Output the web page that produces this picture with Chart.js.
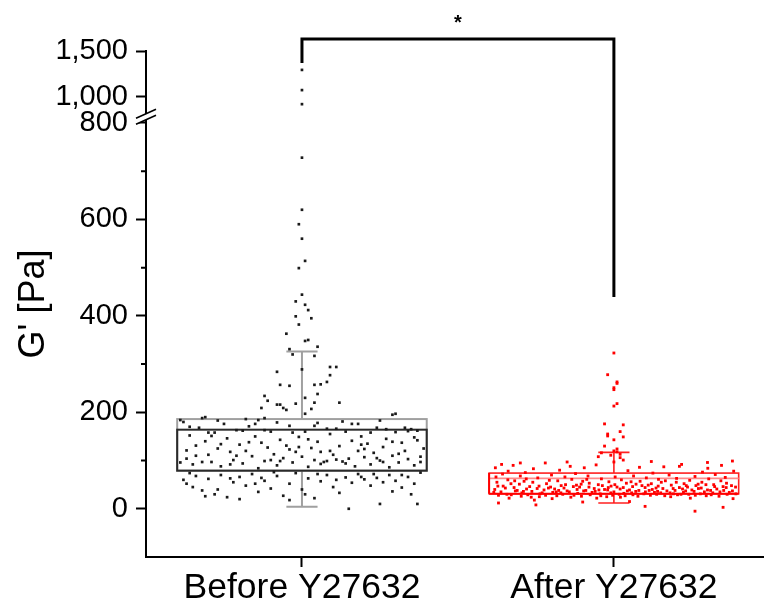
<!DOCTYPE html>
<html>
<head>
<meta charset="utf-8">
<script src="https://cdn.jsdelivr.net/npm/chart.js@4.4.1/dist/chart.umd.min.js"></script>
<style>
  html, body { margin: 0; padding: 0; background: #fff; }
  #chart { display: block; }
</style>
</head>
<body>
<canvas id="chart" width="767" height="606"></canvas>
<script>
const categories = ['Before Y27632', 'After Y27632'];
const yTickVals = [0, 200, 400, 600, 800, 1000, 1500];
const yTickLabels = ['0', '200', '400', '600', '800', '1,000', '1,500'];
const yMinorVals = [100, 300, 500, 700];

// box statistics
const q1 = [79, 31];
const med = [164, 63];
const q3 = [186, 74];
const whiskLo = [4, 12];
const whiskHi = [326, 117];

// significance bracket: left end, top, right end (Pa)
const bracketY = [1369, 1631, 439];

// points: [jittered x, G' value]
const beforePoints = [
  [1.00,1293],[1.00,1072],[1.00,918],[1.00,728],[1.00,620],[0.99,590],[1.00,560],[1.01,514],[0.99,499],
  [1.00,444],[0.98,430],[1.01,423],[1.02,412],[0.98,399],[1.03,395],[0.99,382],[0.95,363],[1.01,348],
  [1.02,350],[0.96,331],[1.05,336],[0.97,320],[1.04,317],[1.00,289],[0.92,284],[1.11,294],[1.09,294],
  [1.09,277],[0.96,255],[0.93,257],[1.04,257],[1.06,258],[1.08,263],[1.05,238],[1.01,230],[0.88,234],
  [0.89,224],[0.92,216],[0.98,218],[0.87,209],[0.93,216],[0.94,209],[0.95,205],[1.03,207],[1.01,197],
  [1.12,220],[1.04,220],[1.29,195],[1.30,197],[0.68,188],[0.69,190],[0.82,186],[0.61,184],[0.88,188],
  [0.62,180],[0.64,152],[0.66,131],[0.63,104],[0.65,92],[0.67,168],[0.69,140],[0.70,112],[0.71,97],
  [0.72,158],[0.73,125],[0.74,88],[0.75,176],[0.76,146],[0.77,118],[0.78,101],[0.79,163],[0.80,133],
  [0.81,94],[0.82,120],[0.83,171],[0.84,109],[0.85,150],[0.86,84],[0.87,137],[0.88,99],[0.89,127],
  [0.90,160],[0.91,113],[0.92,90],[0.93,143],[0.94,105],[0.95,131],[0.96,172],[0.97,96],[0.98,118],
  [0.99,149],[1.00,108],[1.01,160],[1.02,87],[1.03,126],[1.04,101],[1.05,139],[1.06,93],[1.07,97],
  [1.08,99],[1.09,155],[1.10,112],[1.11,166],[1.12,130],[1.13,98],[1.14,160],[1.15,104],[1.16,141],
  [1.17,88],[1.18,120],[1.19,150],[1.20,107],[1.21,135],[1.22,92],[1.23,116],[1.24,168],[1.25,100],
  [1.26,128],[1.27,145],[1.28,86],[1.29,110],[1.30,159],[1.31,96],[1.32,137],[1.33,120],[1.34,103],
  [1.35,165],[1.36,90],[1.37,142],[1.38,108],[1.39,125],[0.63,121],[0.68,97],[0.74,134],[0.79,110],
  [0.85,176],[0.90,101],[0.96,123],[1.02,144],[1.06,118],[1.11,102],[1.16,176],[1.20,124],[1.26,97],
  [1.31,114],[1.36,148],[0.66,110],[0.71,151],[0.77,92],[0.83,138],[0.88,163],[0.93,99],[0.99,128],
  [1.04,172],[1.09,120],[1.14,94],[1.19,133],[1.24,105],[1.29,139],[1.34,161],[1.38,97],[0.61,96],
  [0.97,158],[1.08,166],[1.22,158],[1.27,165],[1.33,168],[1.37,162],[0.70,158],[0.81,162],[0.64,170],
  [1.13,181],[1.25,183],[0.73,183],[0.92,179],[1.05,178],[0.86,184],[1.18,176],
  [0.62,60],[0.63,52],[0.65,45],[0.68,38],[0.70,62],[0.72,30],[0.74,70],[0.76,24],[0.78,55],[0.80,66],
  [0.82,48],[0.84,72],[0.86,35],[0.88,58],[0.90,42],[0.92,68],[0.94,27],[0.96,52],[0.98,74],[1.00,40],
  [1.02,63],[1.04,22],[1.06,57],[1.08,70],[1.10,45],[1.12,33],[1.14,65],[1.16,54],[1.18,72],[1.20,61],
  [1.22,48],[1.24,64],[1.26,55],[1.28,70],[1.30,58],[1.32,44],[1.34,66],[1.36,52],[1.38,75],[0.64,74],
  [0.73,40],[0.87,64],[1.01,30],[1.11,60],[1.29,36],[1.35,30],[0.96,18],[0.80,20],[1.25,10],[1.37,10],
  [1.15,0],[0.69,26],[1.19,66],[0.91,76],[1.05,72],[0.66,68],[0.77,63],[1.32,70],[1.23,72],[0.85,52]
];

const afterPoints = [
  [2.00,323],[1.98,278],[2.01,263],[2.01,260],[2.00,247],[2.00,251],[2.00,213],[2.01,218],[1.97,176],
  [2.03,174],[1.98,155],[2.02,160],[2.03,149],[1.98,151],[2.00,143],[1.97,130],[1.96,116],[2.00,120],
  [2.01,118],[2.02,106],[2.01,124],[1.99,111],[2.02,113],[1.95,108],[2.03,101],[2.00,97],
  [1.62,85],[1.625,55],[1.618,40],[1.63,28],[1.622,66],[1.64,92],[1.645,47],[1.638,35],[1.643,72],
  [1.66,60],[1.657,30],[1.664,22],[1.661,78],[1.68,44],[1.684,37],[1.677,90],[1.682,58],
  [1.70,68],[1.703,26],[1.697,51],[1.705,33],[1.72,41],[1.716,75],[1.724,29],[1.719,62],
  [1.74,55],[1.745,18],[1.737,36],[1.742,83],[1.76,47],[1.763,31],[1.756,64],[1.761,25],
  [1.78,95],[1.776,39],[1.784,52],[1.781,28],[1.80,70],[1.804,34],[1.797,45],[1.802,21],
  [1.82,58],[1.817,27],[1.823,38],[1.826,80],[1.84,43],[1.843,66],[1.836,30],[1.845,50],
  [1.86,88],[1.857,35],[1.862,24],[1.865,61],[1.88,49],[1.884,32],[1.877,73],[1.882,40],
  [1.90,57],[1.896,26],[1.903,37],[1.905,85],[1.92,45],[1.917,68],[1.924,29],[1.921,53],
  [1.94,36],[1.943,91],[1.937,42],[1.945,22],[1.96,62],[1.956,31],[1.963,48],[1.958,27],
  [1.98,39],[1.984,56],[1.977,25],[1.982,44],[2.00,35],[2.004,66],[1.996,28],[2.003,50],
  [2.02,41],[2.017,30],[2.024,60],[2.021,24],[2.04,53],[2.043,37],[2.036,27],[2.045,79],
  [2.06,46],[2.057,33],[2.063,68],[2.061,29],[2.08,38],[2.084,57],[2.077,26],[2.082,86],
  [2.10,44],[2.096,31],[2.104,64],[2.101,35],[2.12,52],[2.117,28],[2.123,40],[2.125,74],
  [2.14,36],[2.143,61],[2.137,30],[2.142,47],[2.16,87],[2.157,42],[2.163,27],[2.165,58],
  [2.18,33],[2.184,49],[2.177,70],[2.182,25],[2.20,55],[2.196,38],[2.204,29],[2.201,63],
  [2.22,41],[2.217,92],[2.223,34],[2.225,52],[2.24,30],[2.243,59],[2.236,45],[2.245,22],
  [2.26,67],[2.257,36],[2.263,48],[2.261,28],[2.28,43],[2.284,76],[2.277,31],[2.282,55],
  [2.30,39],[2.296,27],[2.304,62],[2.301,84],[2.32,50],[2.317,33],[2.323,46],[2.325,71],
  [2.34,35],[2.343,58],[2.337,26],[2.345,90],[2.36,44],[2.357,65],[2.363,30],[2.361,53],
  [2.38,37],[2.384,78],[2.377,48],[2.382,21],
  [1.63,12],[1.75,8],[2.10,5],[2.26,-5],[2.35,3],[1.90,14],[2.05,15],[1.85,97],[2.12,98],[2.30,96],
  [2.38,99],[1.70,95],[2.21,88],
  [1.615,34],[1.652,43],[1.69,38],[1.73,46],[1.77,33],[1.81,41],[1.85,37],[1.89,45],[1.93,34],[1.97,40],
  [2.01,45],[2.05,39],[2.09,48],[2.13,34],[2.17,37],[2.21,44],[2.25,39],[2.29,35],[2.33,41],[2.37,34],
  [2.39,45],[1.67,52],[1.71,36],[1.79,43],[1.83,33],[1.87,46],[1.91,38],[1.95,50],[1.99,33],[2.03,44],
  [2.07,36],[2.11,49],[2.15,33],[2.19,42],[2.23,37],[2.27,51],[2.31,38],[2.35,46],
  [1.628,47],[1.671,29],[1.712,57],[1.754,42],[1.793,59],[1.831,48],[1.872,28],[1.913,61],[1.952,39],
  [1.991,47],[2.032,32],[2.071,51],[2.113,38],[2.152,55],[2.191,31],[2.232,48],[2.271,42],[2.312,29],
  [2.352,38],[2.391,31],[1.735,24],[1.815,35],[1.895,51],[2.055,56],[2.135,43],[2.215,30],[2.295,50]
];

// broken axis: 0-800 linear, then 1000-1500 compressed
function brk(v) {
  return v <= 800 ? v : 854.5 + (v - 1000) * 0.1894;
}

const FONT = 'Liberation Sans, Arial, sans-serif';

const boxPlugin = {
  id: 'boxes',
  beforeDatasetsDraw(chart) {
    const ctx = chart.ctx, x = chart.scales.x, y = chart.scales.y;
    const py = v => y.getPixelForValue(brk(v));
    ctx.save();
    categories.forEach((c, i) => {
      const cx = i + 1;
      const xl = x.getPixelForValue(cx - 0.4), xr = x.getPixelForValue(cx + 0.4);
      const xm = x.getPixelForValue(cx);
      const cl = x.getPixelForValue(cx - 0.05), cr = x.getPixelForValue(cx + 0.05);
      const outer = i === 0 ? '#a0a0a0' : '#ff2020';
      const inner = i === 0 ? '#2a2a2a' : '#ff8a8a';
      ctx.lineWidth = i === 0 ? 2 : 1.6;
      // whiskers
      ctx.strokeStyle = outer;
      ctx.beginPath();
      ctx.moveTo(xm, py(q1[i])); ctx.lineTo(xm, py(whiskLo[i]));
      ctx.moveTo(cl, py(whiskLo[i])); ctx.lineTo(cr, py(whiskLo[i]));
      ctx.moveTo(xm, py(q3[i])); ctx.lineTo(xm, py(whiskHi[i]));
      ctx.moveTo(cl, py(whiskHi[i])); ctx.lineTo(cr, py(whiskHi[i]));
      ctx.stroke();
      // box
      ctx.strokeRect(xl, py(q3[i]), xr - xl, py(q1[i]) - py(q3[i]));
      if (i === 0) {
        ctx.strokeStyle = inner;
        ctx.strokeRect(xl, py(med[i]), xr - xl, py(q1[i]) - py(med[i]));
      } else {
        ctx.strokeStyle = inner;
        ctx.beginPath();
        ctx.moveTo(xl, py(med[i])); ctx.lineTo(xr, py(med[i]));
        ctx.stroke();
        ctx.strokeStyle = '#ff0000';
        ctx.lineWidth = 2;
        ctx.beginPath();
        ctx.moveTo(xl, py(q1[i])); ctx.lineTo(xr, py(q1[i]));
        ctx.moveTo(xl, py(q1[i])); ctx.lineTo(xl, py(q3[i]));
        ctx.stroke();
      }
    });
    ctx.restore();
  },
  afterDraw(chart) {
    const ctx = chart.ctx, x = chart.scales.x, y = chart.scales.y;
    const py = v => y.getPixelForValue(brk(v));
    const left = chart.chartArea.left;
    ctx.save();
    // minor ticks
    ctx.strokeStyle = '#000';
    ctx.lineWidth = 2;
    ctx.beginPath();
    yMinorVals.forEach(v => {
      ctx.moveTo(left - 5, py(v)); ctx.lineTo(left, py(v));
    });
    ctx.stroke();
    // axis break marks
    const yb = y.getPixelForValue(812);
    ctx.fillStyle = '#fff';
    ctx.beginPath();
    ctx.moveTo(left - 10, yb + 1); ctx.lineTo(left + 10, yb - 8);
    ctx.lineTo(left + 10, yb - 2); ctx.lineTo(left - 10, yb + 7);
    ctx.closePath();
    ctx.fill();
    ctx.lineWidth = 1.6;
    ctx.beginPath();
    ctx.moveTo(left - 10, yb + 1); ctx.lineTo(left + 10, yb - 8);
    ctx.moveTo(left - 10, yb + 7); ctx.lineTo(left + 10, yb - 2);
    ctx.stroke();
    // significance bracket
    const x1 = x.getPixelForValue(1), x2 = x.getPixelForValue(2);
    ctx.lineWidth = 3;
    ctx.lineJoin = 'miter';
    ctx.beginPath();
    ctx.moveTo(x1, py(bracketY[0]));
    ctx.lineTo(x1, py(bracketY[1]));
    ctx.lineTo(x2, py(bracketY[1]));
    ctx.lineTo(x2, py(bracketY[2]));
    ctx.stroke();
    ctx.fillStyle = '#000';
    ctx.font = 'bold 20px ' + FONT;
    ctx.textAlign = 'center';
    ctx.textBaseline = 'middle';
    ctx.fillText('*', (x1 + x2) / 2, py(bracketY[1]) - 16);
    ctx.restore();
  }
};

new Chart(document.getElementById('chart'), {
  type: 'scatter',
  data: {
    datasets: [
      {
        label: categories[0],
        data: beforePoints.map(p => ({ x: p[0], y: brk(p[1]) })),
        backgroundColor: '#1a1a1a',
        borderWidth: 0,
        pointStyle: 'rect',
        pointRadius: 1.9
      },
      {
        label: categories[1],
        data: afterPoints.map(p => ({ x: p[0], y: brk(p[1]) })),
        backgroundColor: '#ff0000',
        borderWidth: 0,
        pointStyle: 'rect',
        pointRadius: 2
      }
    ]
  },
  options: {
    responsive: false,
    animation: false,
    devicePixelRatio: 1,
    layout: { padding: { top: 51, right: 0, bottom: 0, left: 0 } },
    plugins: { legend: { display: false }, tooltip: { enabled: false } },
    scales: {
      x: {
        type: 'linear',
        min: 0.5,
        max: 2.478,
        afterFit(s) { s.height = 49; },
        afterBuildTicks(s) { s.ticks = [{ value: 1 }, { value: 2 }]; },
        grid: { display: true, drawOnChartArea: false, drawTicks: true, tickLength: 10, tickWidth: 2, tickColor: '#000' },
        border: { display: true, color: '#000', width: 2 },
        ticks: {
          autoSkip: false,
          maxRotation: 0,
          padding: 0,
          color: '#000',
          font: { family: FONT, size: 35.5 },
          callback: v => categories[v - 1] || ''
        }
      },
      y: {
        type: 'linear',
        min: -100,
        max: brk(1500),
        afterFit(s) { s.width = 146; },
        afterBuildTicks(s) { s.ticks = yTickVals.map(v => ({ value: brk(v) })); },
        grid: { display: true, drawOnChartArea: false, drawTicks: true, tickLength: 10, tickWidth: 2, tickColor: '#000' },
        border: { display: true, color: '#000', width: 2 },
        ticks: {
          autoSkip: false,
          padding: 8,
          color: '#000',
          font: { family: FONT, size: 29 },
          callback: (v, i) => yTickLabels[i]
        },
        title: {
          display: true,
          text: "G' [Pa]",
          color: '#000',
          font: { family: FONT, size: 36 },
          padding: { top: 12, bottom: 0 }
        }
      }
    }
  },
  plugins: [boxPlugin]
});
</script>
</body>
</html>
